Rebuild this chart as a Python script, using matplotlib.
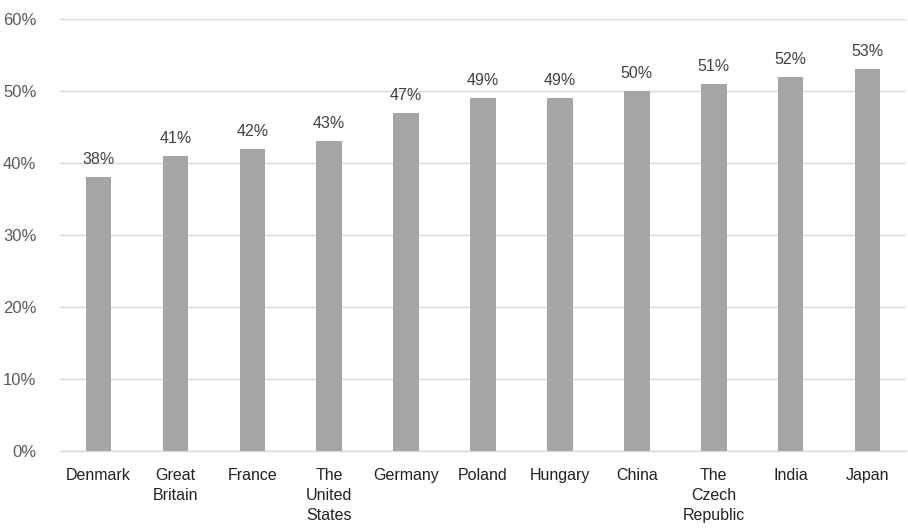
import matplotlib
matplotlib.use("Agg")
import matplotlib.pyplot as plt
from matplotlib.ticker import FuncFormatter

countries = ["Denmark", "Great\nBritain", "France", "The\nUnited\nStates", "Germany",
             "Poland", "Hungary", "China", "The\nCzech\nRepublic", "India", "Japan"]
values = [38, 41, 42, 43, 47, 49, 49, 50, 51, 52, 53]
y_ticks = [0, 10, 20, 30, 40, 50, 60]

plt.rcParams['font.family'] = ['Liberation Sans', 'DejaVu Sans']

fig = plt.figure(figsize=(9.08, 5.28), dpi=100)
ax = fig.add_axes([0.066, 0.146, 0.932, 0.818])

x = range(len(countries))
bars = ax.bar(x, values, width=0.33, color='#a5a5a5', zorder=3)
for b, v in zip(bars, values):
    ax.text(b.get_x() + b.get_width() / 2, v + 1.4, f"{v}%", ha='center', va='bottom',
            fontsize=11.5, color='#404040')

ax.set_xlim(-0.5, len(countries) - 0.5)
ax.set_ylim(0, 60)
ax.set_yticks(y_ticks)
ax.yaxis.set_major_formatter(FuncFormatter(lambda v, p: f"{int(v)}%"))
ax.set_xticks(list(x))
ax.set_xticklabels(countries, fontsize=11.5, color='#222222', linespacing=1.45)
ax.tick_params(axis='y', labelsize=12, labelcolor='#595959', length=0, pad=17)
ax.tick_params(axis='x', length=0, pad=12)
ax.grid(axis='y', color='#d9d9d9', linewidth=1, zorder=0)
for s in ['top', 'right', 'left']:
    ax.spines[s].set_visible(False)
ax.spines['bottom'].set_color('#d9d9d9')
ax.spines['bottom'].set_linewidth(1)

fig.savefig("out.png", dpi=100)
